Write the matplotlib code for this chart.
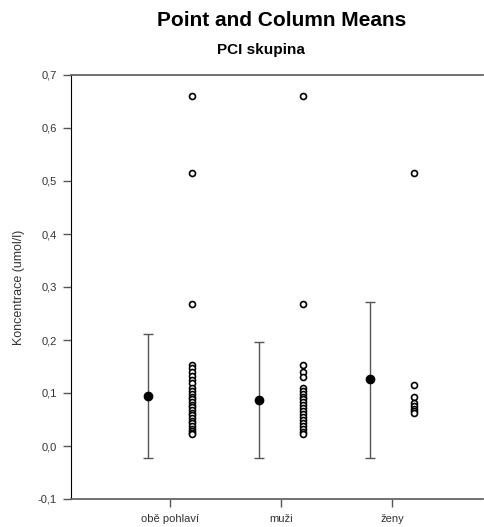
import numpy as np
import matplotlib.pyplot as plt
from matplotlib.ticker import FuncFormatter

plt.rcParams['font.family'] = ['Liberation Sans', 'DejaVu Sans']

# categories and summary values
groups = ['obě pohlaví', 'muži', 'ženy']
means = [0.094, 0.087, 0.126]
lower = [-0.023, -0.023, -0.023]
upper = [0.211, 0.196, 0.271]

# individual points per group
pts_all = [0.660, 0.515, 0.268, 0.152, 0.148, 0.140, 0.132, 0.125, 0.118, 0.110,
           0.104, 0.098, 0.093, 0.088, 0.083, 0.078, 0.073, 0.068, 0.063, 0.058,
           0.053, 0.048, 0.043, 0.038, 0.033, 0.029, 0.025, 0.022]
pts_men = [0.660, 0.268, 0.152, 0.140, 0.130, 0.110, 0.104, 0.098, 0.093, 0.088,
           0.083, 0.077, 0.071, 0.066, 0.061, 0.055, 0.050, 0.044, 0.038, 0.032,
           0.027, 0.022]
pts_women = [0.515, 0.115, 0.093, 0.081, 0.075, 0.070, 0.066, 0.062]
points = [pts_all, pts_men, pts_women]

fig = plt.figure(figsize=(4.84, 5.27), dpi=100)
ax = fig.add_axes([71/484, 28/527, 412/484, 424/527])

x = np.arange(1, len(groups) + 1)
off = 0.2

for i in range(len(groups)):
    xm = x[i] - off
    ax.vlines(xm, lower[i], upper[i], color='#555555', lw=1.0)
    ax.hlines([lower[i], upper[i]], xm - 0.045, xm + 0.045, color='#555555', lw=1.0)
    ax.plot(xm, means[i], 'o', color='black', ms=6)
    ax.plot([x[i] + off] * len(points[i]), points[i], 'o', mfc='white',
            mec='black', mew=1.2, ms=4.3)

ax.set_xlim(1 - 99/111, 3 + 91/111)
ax.set_ylim(-0.1, 0.7)
ax.set_yticks(np.arange(-0.1, 0.71, 0.1))
ax.yaxis.set_major_formatter(FuncFormatter(lambda v, p: ('%.1f' % v).replace('.', ',')))
ax.set_xticks(x)
ax.set_xticklabels(groups)
ax.tick_params(axis='both', direction='out', length=6, width=1, colors='#555555',
               labelsize=8, labelcolor='#333333', pad=4)
ax.tick_params(axis='x', pad=5)

ax.spines['right'].set_visible(False)
ax.spines['left'].set_color('black')
ax.spines['bottom'].set_color('#666666')
ax.spines['top'].set_color('#666666')
ax.spines['bottom'].set_linewidth(1.3)
ax.spines['top'].set_linewidth(1.3)

ax.set_ylabel('Koncentrace (umol/l)', fontsize=9, color='#333333', labelpad=9)

fig.text(282/484, 1 - 21/527, 'Point and Column Means', ha='center', va='center',
         fontsize=15, fontweight='bold')
fig.text(261/484, 1 - 50/527, 'PCI skupina', ha='center', va='center',
         fontsize=11, fontweight='bold')

fig.savefig('out.png', dpi=100)
